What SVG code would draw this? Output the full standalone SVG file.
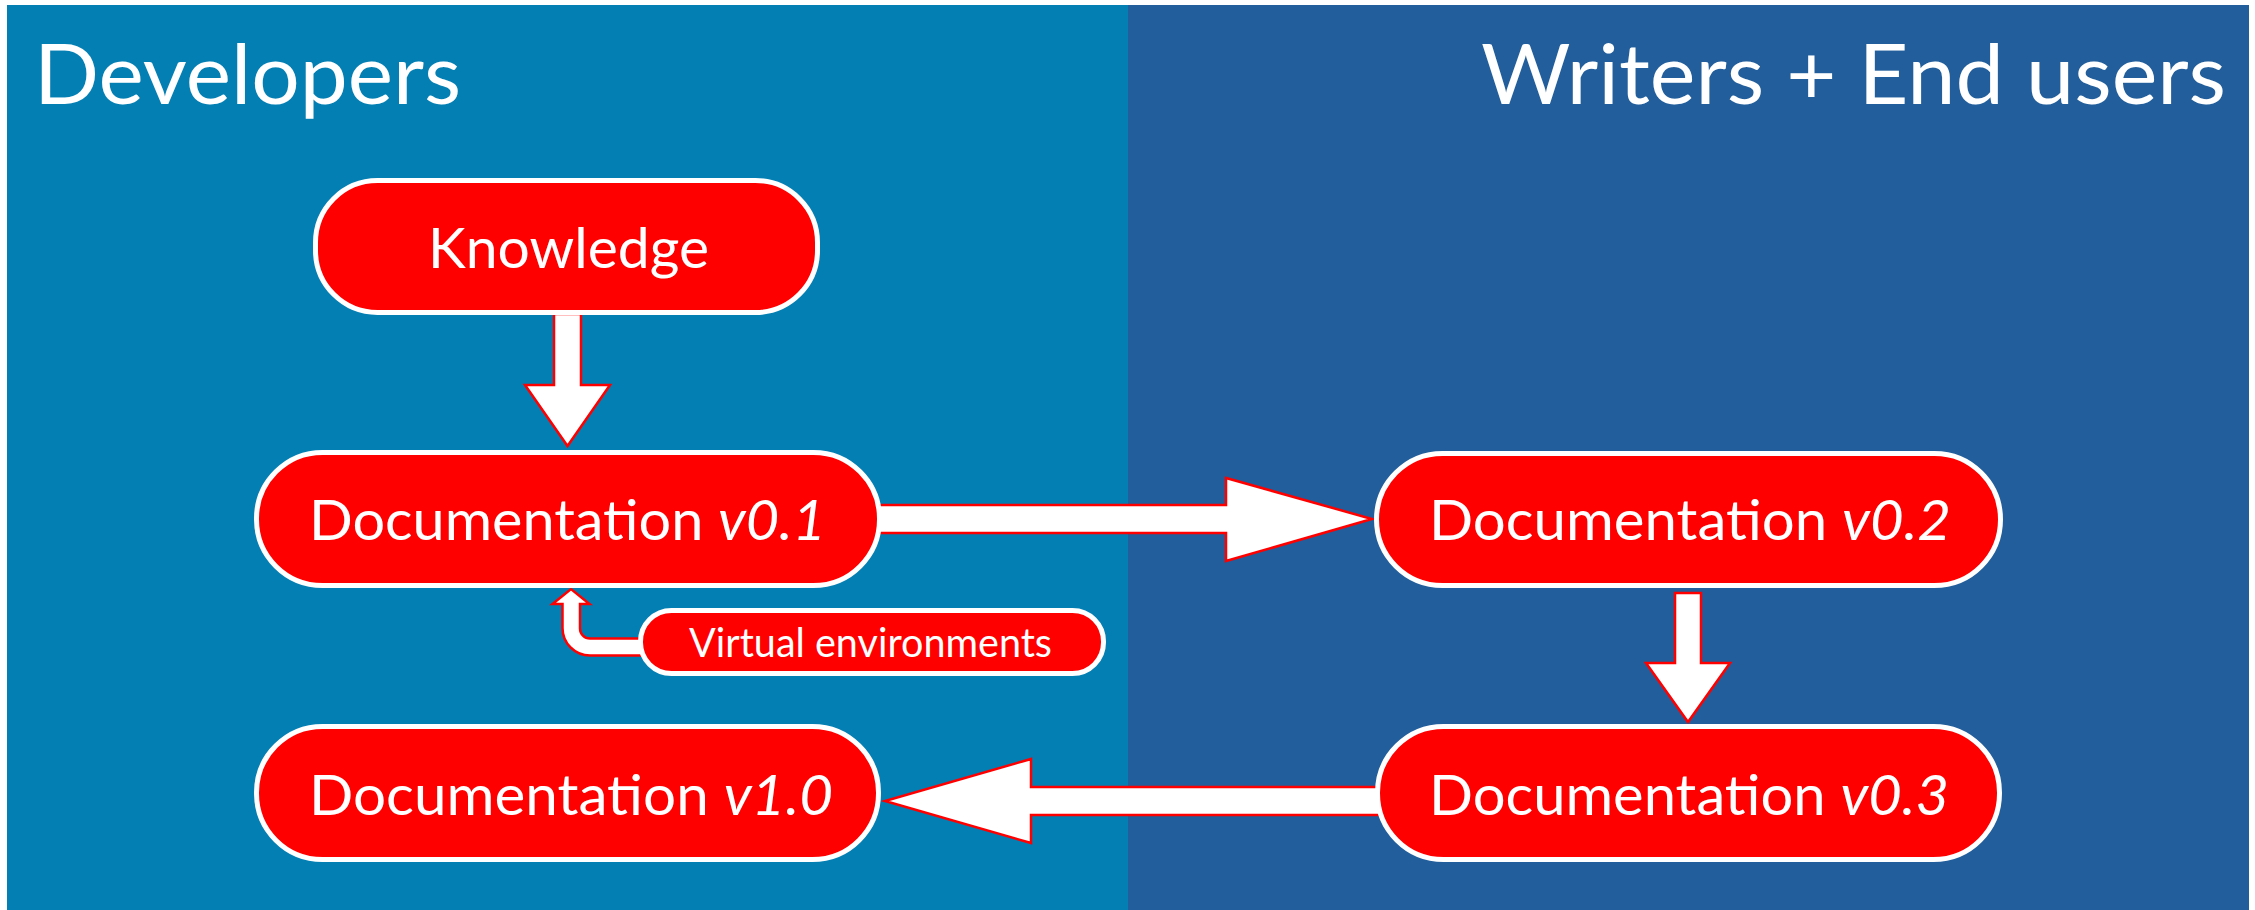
<svg xmlns="http://www.w3.org/2000/svg" width="2255" height="910" viewBox="0 0 2255 910">
  <style>
    .title { font-family: Lato, "Open Sans", "Liberation Sans", sans-serif; font-size: 84px; fill: #ffffff; }
    .node rect { fill: #ff0000; stroke: #ffffff; stroke-width: 5; }
    .label { font-family: Lato, "Open Sans", "Liberation Sans", sans-serif; font-size: 56px; fill: #ffffff; text-anchor: start; }
    .small { font-size: 40px; }
    .it { font-style: italic; }
    .arrow { fill: #ffffff; stroke: #ff0000; stroke-width: 2.5; stroke-linejoin: miter; }
  </style>

  <!-- swimlane backgrounds -->
  <rect x="0" y="0" width="2255" height="910" fill="#ffffff"/>
  <rect id="lane-developers" x="7" y="5" width="1121" height="905" fill="#037FB4"/>
  <rect id="lane-writers" x="1128" y="5" width="1121" height="905" fill="#215E9B"/>
  <text class="title" x="34" y="104" textLength="427" lengthAdjust="spacingAndGlyphs">Developers</text>
  <text class="title" x="1481" y="104" textLength="745" lengthAdjust="spacingAndGlyphs">Writers + End users</text>

  <!-- block arrows between stages -->
  <g id="connectors">
    <polygon class="arrow" points="554,314 581,314 581,385 610,385 567.5,446 525,385 554,385"/>
    <polygon class="arrow" points="870,505 1226,505 1226,478 1372,519 1226,561 1226,533 870,533"/>
    <polygon class="arrow" points="1675,593 1701,593 1701,663 1730,663 1688,722 1646,663 1675,663"/>
    <polygon class="arrow" points="1380,787 1031,787 1031,759 885,801 1031,843 1031,815 1380,815"/>
    <path class="arrow" d="M 645 638.5 L 590 638.5 A 10 10 0 0 1 580 628.5 L 580 604 L 589.5 604 L 571 589 L 552.5 604 L 562.5 604 L 562.5 628 A 27.5 27.5 0 0 0 590 655.5 L 645 655.5 Z"/>
  </g>

  <g id="knowledge" class="node">
    <rect x="315.5" y="180.5" width="502" height="132" rx="62" ry="62"/>
    <text class="label" x="428" y="268" textLength="281" lengthAdjust="spacingAndGlyphs">Knowledge</text>
  </g>

  <g id="doc-v01" class="node">
    <rect x="256.5" y="452.5" width="623" height="133" rx="66" ry="66"/>
    <text class="label" x="309" y="540" textLength="517" lengthAdjust="spacingAndGlyphs">Documentation <tspan class="it">v0.1</tspan></text>
  </g>

  <g id="doc-v02" class="node">
    <rect x="1376.5" y="453.5" width="624" height="132" rx="66" ry="66"/>
    <text class="label" x="1429" y="540" textLength="522" lengthAdjust="spacingAndGlyphs">Documentation <tspan class="it">v0.2</tspan></text>
  </g>

  <g id="doc-v03" class="node">
    <rect x="1377.5" y="726.5" width="622" height="133" rx="66" ry="66"/>
    <text class="label" x="1429" y="815" textLength="520" lengthAdjust="spacingAndGlyphs">Documentation <tspan class="it">v0.3</tspan></text>
  </g>

  <g id="doc-v10" class="node">
    <rect x="256.5" y="726.5" width="622" height="133" rx="66" ry="66"/>
    <text class="label" x="309" y="815" textLength="524" lengthAdjust="spacingAndGlyphs">Documentation <tspan class="it">v1.0</tspan></text>
  </g>

  <g id="virtual-environments" class="node">
    <rect x="640.5" y="610.5" width="463" height="63" rx="31" ry="31"/>
    <text class="label small" x="689" y="657" textLength="363" lengthAdjust="spacingAndGlyphs">Virtual environments</text>
  </g>
</svg>
